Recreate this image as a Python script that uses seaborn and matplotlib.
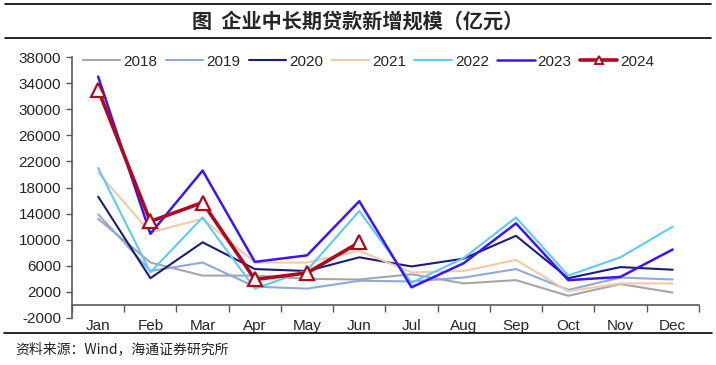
import matplotlib
matplotlib.use('Agg')
import matplotlib.pyplot as plt
from matplotlib.lines import Line2D
from matplotlib.ticker import FixedLocator, NullFormatter
import seaborn as sns
import pandas as pd

months = ['Jan', 'Feb', 'Mar', 'Apr', 'May', 'Jun', 'Jul', 'Aug', 'Sep', 'Oct', 'Nov', 'Dec']
y2018 = [13200, 6500, 4500, 4500, 4000, 3900, 4700, 3300, 3800, 1400, 3200, 1900]
y2019 = [13900, 5200, 6500, 2800, 2500, 3700, 3600, 4200, 5500, 2300, 4200, 3900]
y2020 = [16600, 4100, 9600, 5500, 5200, 7300, 5900, 7100, 10600, 4100, 5800, 5400]
y2021 = [20300, 11100, 13200, 6500, 6500, 8300, 5000, 5200, 6900, 2100, 3300, 3300]
y2022 = [21000, 5000, 13400, 2500, 5300, 14400, 3400, 7200, 13400, 4500, 7300, 12000]
y2023 = [35000, 10900, 20600, 6600, 7600, 15900, 2700, 6400, 12500, 3800, 4300, 8500]
y2024 = [33000, 12800, 15700, 3900, 4900, 9600]

years = ['2018', '2019', '2020', '2021', '2022', '2023', '2024']
series = [y2018, y2019, y2020, y2021, y2022, y2023, y2024]
colors = ['#A6A6A6', '#8EA9DB', '#1C1C80', '#F4C9A8', '#5BCBF7', '#3A14FF', '#B0081E']
widths = [1.5, 1.5, 1.5, 1.5, 1.5, 1.8, 2.6]

sns.set_style('ticks')
plt.rcParams['font.family'] = ['Liberation Sans', 'Noto Sans CJK SC', 'DejaVu Sans']

fig = plt.figure(figsize=(7.16, 3.65), dpi=100)
ax = fig.add_axes([0.1006, 0.1288, 0.8754, 0.715])

for year, vals, col, lw in zip(years, series, colors, widths):
    df = pd.DataFrame({'x': range(len(vals)), 'y': vals})
    if year == '2024':
        sns.lineplot(data=df, x='x', y='y', ax=ax, color=col, linewidth=lw, label=year,
                     marker='^', markersize=10, markerfacecolor='white',
                     markeredgecolor=col, markeredgewidth=1.6)
    else:
        sns.lineplot(data=df, x='x', y='y', ax=ax, color=col, linewidth=lw, label=year)

ax.set_xlim(-0.5, 11.5)
ax.set_ylim(-2000, 38000)
ax.set_yticks(range(-2000, 38001, 4000))
ax.set_yticklabels([str(v) for v in range(-2000, 38001, 4000)])
ax.set_xlabel('')
ax.set_ylabel('')

# month labels centred, tick marks on the category borders
ax.xaxis.set_major_locator(FixedLocator([i - 0.5 for i in range(13)]))
ax.xaxis.set_major_formatter(NullFormatter())
ax.xaxis.set_minor_locator(FixedLocator(list(range(12))))
ax.set_xticklabels(months, minor=True)
ax.tick_params(axis='x', which='major', length=5, width=1, color='#595959', direction='out')
ax.tick_params(axis='x', which='minor', length=0, pad=10, labelsize=11)
ax.tick_params(axis='y', length=4, width=1, color='#595959', labelsize=11, pad=4)

ax.spines['bottom'].set_position(('data', 0))
for s in ['left', 'bottom']:
    ax.spines[s].set_color('#595959')
    ax.spines[s].set_linewidth(1.2)
ax.spines['top'].set_visible(False)
ax.spines['right'].set_visible(False)

leg = ax.legend(loc='upper left', bbox_to_anchor=(0.0, 1.05), ncol=7, frameon=False,
                fontsize=11, handlelength=2.45, handletextpad=0.2, columnspacing=0.55,
                borderaxespad=0.3)
# smaller triangle in the legend
leg.legend_handles[-1].set_markersize(6)
leg.legend_handles[-1].set_markeredgewidth(1.4)

# title block and source
fig.add_artist(Line2D([0.007, 0.993], [0.989, 0.989], color='black', lw=1.2))
fig.add_artist(Line2D([0.007, 0.993], [0.896, 0.896], color='black', lw=1.2))
fig.text(0.5, 0.943, '图  企业中长期贷款新增规模（亿元）', ha='center', va='center',
         fontsize=14.5, fontweight='bold', family=['Noto Sans CJK SC'])
fig.add_artist(Line2D([0.006, 0.994], [0.0877, 0.0877], color='black', lw=1.2))
fig.text(0.021, 0.044, '资料来源：Wind，海通证券研究所', ha='left', va='center',
         fontsize=10, color='#222222', family=['Noto Sans CJK SC', 'Liberation Sans'])

fig.savefig('out.png', dpi=100)
